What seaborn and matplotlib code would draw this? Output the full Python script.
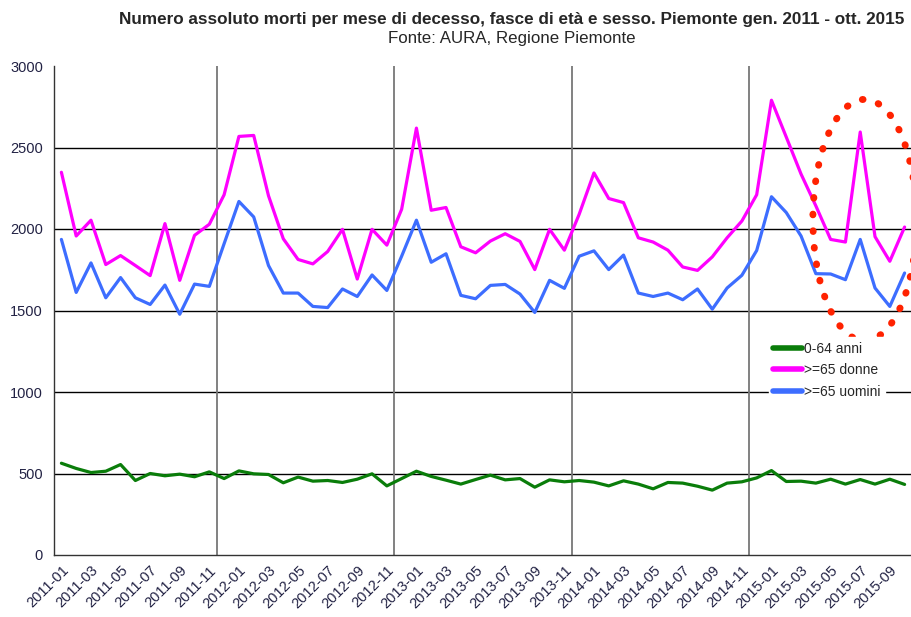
import numpy as np
import pandas as pd
import matplotlib.pyplot as plt
from matplotlib.patches import Ellipse
import seaborn as sns

# mesi gen 2011 - ott 2015
mesi = [f"{a}-{m:02d}" for a in range(2011, 2016) for m in range(1, 13)][:58]

giovani = [563, 531, 506, 514, 555, 457, 500, 486, 496, 480, 510, 469,
           516, 498, 494, 443, 478, 453, 457, 445, 465, 498, 424, 469,
           514, 482, 459, 435, 463, 490, 461, 469, 416, 461, 449, 457,
           447, 424, 455, 435, 406, 445, 441, 422, 398, 441, 449, 473,
           518, 451, 453, 441, 465, 435, 463, 435, 465, 433]

donne = [2348, 1957, 2054, 1782, 1837, 1776, 1714, 2033, 1685, 1961, 2029, 2210,
         2568, 2574, 2204, 1940, 1813, 1786, 1862, 1998, 1693, 1998, 1901, 2121,
         2619, 2115, 2132, 1891, 1854, 1926, 1971, 1924, 1751, 1998, 1870, 2090,
         2344, 2187, 2162, 1946, 1920, 1870, 1767, 1746, 1829, 1946, 2049, 2210,
         2790, 2564, 2337, 2142, 1936, 1920, 2595, 1953, 1802, 2012]

uomini = [1936, 1611, 1792, 1578, 1702, 1578, 1537, 1656, 1477, 1662, 1648, 1910,
          2169, 2074, 1776, 1607, 1607, 1525, 1518, 1632, 1586, 1718, 1623, 1833,
          2054, 1796, 1848, 1593, 1572, 1654, 1660, 1601, 1488, 1685, 1636, 1833,
          1866, 1751, 1840, 1607, 1586, 1607, 1566, 1632, 1508, 1638, 1716, 1868,
          2198, 2101, 1957, 1726, 1724, 1689, 1936, 1638, 1525, 1730]

serie = ["0-64 anni", ">=65 donne", ">=65 uomini"]
colori = ["#0a7d0a", "#ff00ff", "#3d6dff"]

pos = np.arange(len(mesi))
df = pd.concat([
    pd.DataFrame({"pos": pos, "morti": giovani, "gruppo": serie[0]}),
    pd.DataFrame({"pos": pos, "morti": donne, "gruppo": serie[1]}),
    pd.DataFrame({"pos": pos, "morti": uomini, "gruppo": serie[2]}),
])

sns.set_style("white")
plt.rcParams['font.family'] = ['Liberation Sans', 'DejaVu Sans']

fig = plt.figure(figsize=(9.11, 6.17), dpi=100)
ax = fig.add_axes([54 / 911, 1 - 555 / 617, 858 / 911, 489 / 617])

sns.lineplot(data=df, x="pos", y="morti", hue="gruppo", palette=colori,
             linewidth=2.3, ax=ax, legend=True)

ax.set_xlim(-0.5, len(mesi) - 0.5)
ax.set_ylim(0, 3000)
ax.set_yticks(range(0, 3001, 500))
for v in range(500, 3000, 500):
    ax.axhline(v, color="black", lw=1, zorder=0)

# linee verticali di separazione anni (tra nov e dic nel grafico originale)
for k in range(4):
    ax.axvline(10.5 + 12 * k, color="#777777", lw=1.3, zorder=0)

ax.set_xticks(pos[::2])
ax.set_xticklabels(mesi[::2], rotation=45, ha="right", rotation_mode="anchor",
                   fontsize=10.5, color="#222244")
ax.set_xticks(np.arange(-0.5, len(mesi)), minor=True)
ax.tick_params(axis="x", which="major", length=0, pad=6)
ax.tick_params(axis="x", which="minor", length=5, width=1, color="#333333", direction="out")
ax.tick_params(axis="y", length=5, width=1, color="#333333", direction="out",
               labelsize=10.5, labelcolor="#222244", pad=3)
ax.set_xlabel("")
ax.set_ylabel("")

for s in ["top", "right"]:
    ax.spines[s].set_visible(False)
for s in ["left", "bottom"]:
    ax.spines[s].set_color("#333333")
    ax.spines[s].set_linewidth(1)

# ellisse rossa a puntini
ell = Ellipse((54.3, 2055), width=7.0, height=1480, fill=False,
              edgecolor="#ff2200", linestyle=(0, (0.1, 2.3)), linewidth=5,
              capstyle="round", zorder=5)
ax.add_patch(ell)

leg = ax.legend(loc="upper left", bbox_to_anchor=(0.833, 0.445), frameon=True,
                fontsize=10, handlelength=2.1, handletextpad=0.15,
                labelspacing=0.55, borderpad=0.3, borderaxespad=0)
leg.get_frame().set_facecolor("white")
leg.get_frame().set_edgecolor("white")
leg.get_frame().set_alpha(1)
for line in leg.get_lines():
    line.set_linewidth(4)

fig.text(0.5615, 0.969, "Numero assoluto morti per mese di decesso, fasce di età e sesso. "
         "Piemonte gen. 2011 - ott. 2015", ha="center", va="center",
         fontsize=12.3, fontweight="bold")
fig.text(0.5615, 0.937, "Fonte: AURA, Regione Piemonte", ha="center", va="center",
         fontsize=12.2)

fig.savefig("out.png", dpi=100)
